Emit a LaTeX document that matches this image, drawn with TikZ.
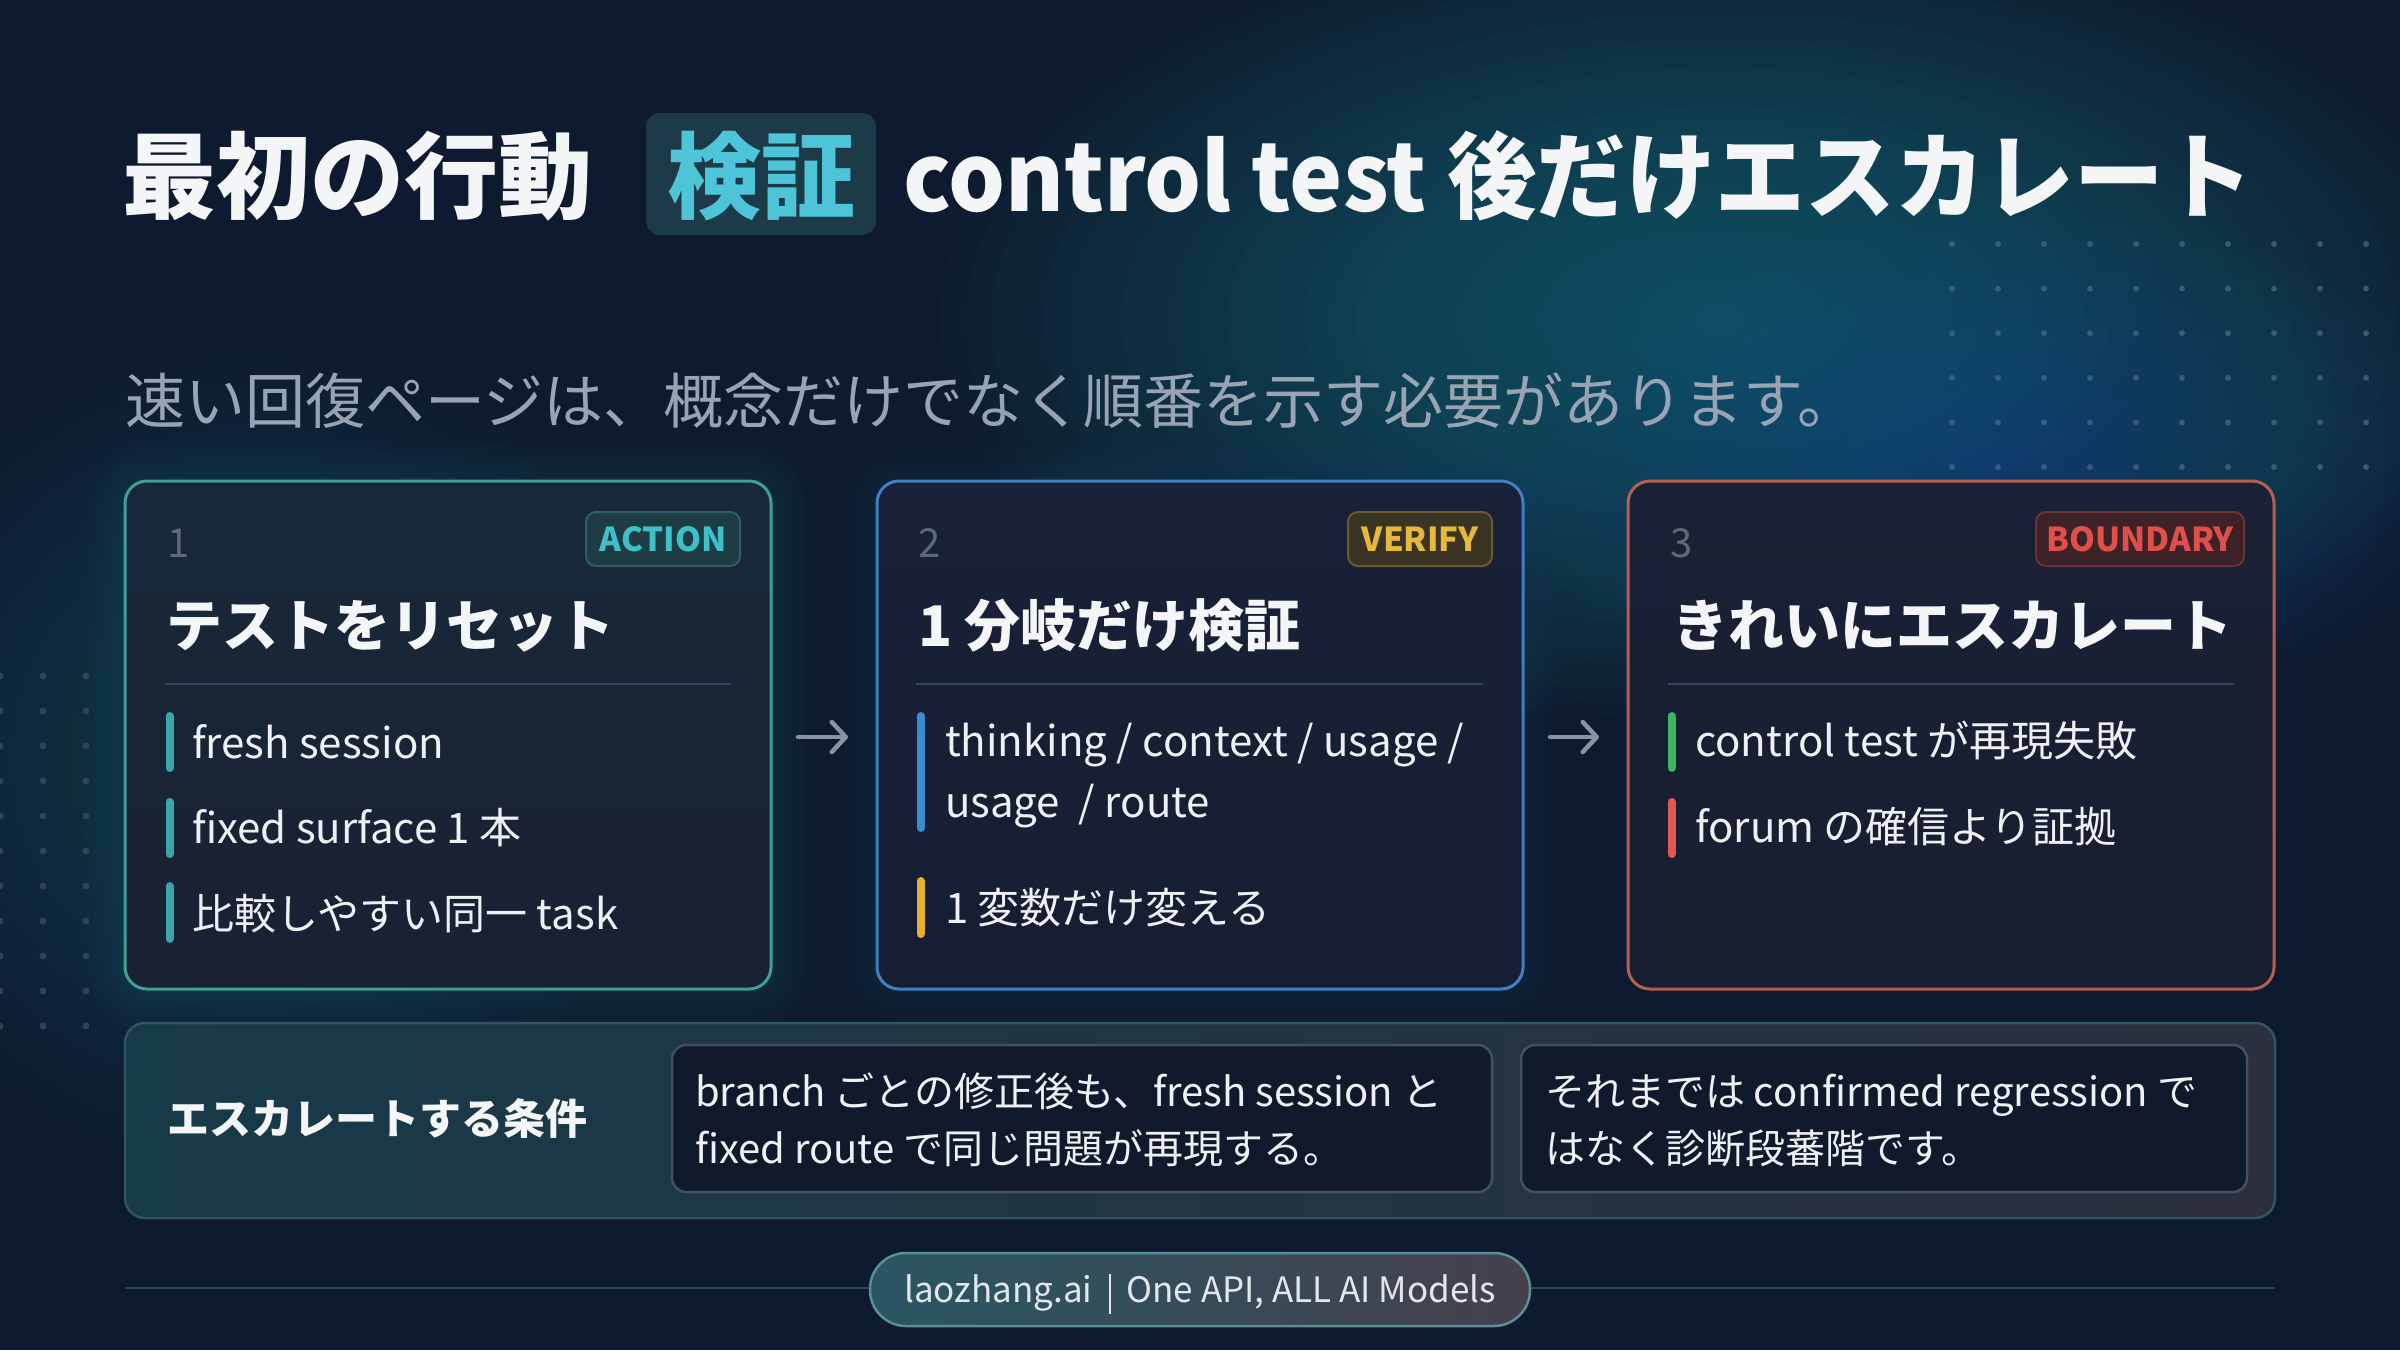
\documentclass[tikz,border=0pt]{standalone}
\usepackage{fontspec}
\usepackage{graphicx}
\setmainfont{Noto Sans CJK JP}
\usetikzlibrary{arrows.meta,calc}
\definecolor{bg}{HTML}{0E1A2F}
\definecolor{glowteal}{HTML}{2A8090}
\definecolor{glowblue}{HTML}{3A6AA8}
\definecolor{titlec}{HTML}{F4F5F7}
\definecolor{hlfill}{HTML}{1C3A48}
\definecolor{hltext}{HTML}{4EC4D8}
\definecolor{subc}{HTML}{98A4B4}
\definecolor{numc}{HTML}{5D6878}
\definecolor{sepc}{HTML}{34445A}
\definecolor{bodyc}{HTML}{EEF0F3}
\definecolor{cAborder}{HTML}{3F9E96}
\definecolor{cBborder}{HTML}{3F7FC4}
\definecolor{cCborder}{HTML}{B4604E}
\definecolor{cAtop}{HTML}{18283A}
\definecolor{cAbot}{HTML}{192133}
\definecolor{cBtop}{HTML}{182138}
\definecolor{cBbot}{HTML}{171E33}
\definecolor{cCtop}{HTML}{1A2136}
\definecolor{cCbot}{HTML}{181E31}
\definecolor{tealbar}{HTML}{3AA6AA}
\definecolor{bluebar}{HTML}{3D8AD0}
\definecolor{yellowbar}{HTML}{E8B030}
\definecolor{greenbar}{HTML}{3CB460}
\definecolor{redbar}{HTML}{E05A50}
\definecolor{bAfill}{HTML}{1D3C44}
\definecolor{bAdraw}{HTML}{2F5F66}
\definecolor{bAtext}{HTML}{3FC0C8}
\definecolor{bBfill}{HTML}{3A3424}
\definecolor{bBdraw}{HTML}{6B5A30}
\definecolor{bBtext}{HTML}{E6B840}
\definecolor{bCfill}{HTML}{3E2228}
\definecolor{bCdraw}{HTML}{6A3338}
\definecolor{bCtext}{HTML}{E0504A}
\definecolor{arrowc}{HTML}{8892A0}
\definecolor{boxfill}{HTML}{111A2C}
\definecolor{boxdraw}{HTML}{435064}
\definecolor{panelL}{HTML}{173A49}
\definecolor{panelR}{HTML}{2C2F3E}
\definecolor{paneldraw}{HTML}{2F5662}
\definecolor{pillL}{HTML}{2A5663}
\definecolor{pillR}{HTML}{45404C}
\definecolor{pilldraw}{HTML}{5A8F98}
\definecolor{pilltext}{HTML}{E2E7EC}
\definecolor{dotc}{HTML}{4A6A86}
\definecolor{dotl}{HTML}{2E4258}
\definecolor{footc}{HTML}{2B4458}
\newcommand\myfs[1]{\fontsize{#1}{#1}\selectfont}
\newcommand\myglow[6]{%
  \foreach \k in {1,...,30}{\fill[#5, fill opacity=#6] (#1,#2) ellipse [x radius={#3/30*\k*1pt}, y radius={#4/30*\k*1pt}];}}
\begin{document}
\begin{tikzpicture}[x=1pt,y=-1pt,
  txt/.style={anchor=base west, inner sep=0pt, outer sep=0pt},
  card/.style={minimum width=646pt, minimum height=508pt, rounded corners=22pt, line width=3pt, inner sep=0pt, outer sep=0pt},
  badge/.style={minimum height=54pt, rounded corners=10pt, line width=2pt, inner sep=0pt, font=\bfseries\myfs{33}},
  num/.style={txt, text=numc, font=\myfs{40}},
  ctitle/.style={txt, text=titlec, font=\bfseries\myfs{56}},
  body/.style={txt, text=bodyc, font=\myfs{42}},
  sepline/.style={draw=sepc, line width=2pt},
  bar/.style={line width=8pt, line cap=round},
  flowarrow/.style={draw=arrowc, line width=4.5pt, line cap=round, -{Straight Barb[round,length=14pt,width=30pt]}},
  cbox/.style={minimum height=147pt, rounded corners=14pt, fill=boxfill, draw=boxdraw, line width=2.5pt, inner sep=0pt, outer sep=0pt},
  boxtext/.style={txt, text=bodyc, font=\myfs{40}}
]
\useasboundingbox (0,0) rectangle (2400,1350);
\fill[bg] (0,0) rectangle (2400,1350);
% background glows
\myglow{1720}{320}{780}{400}{glowteal}{0.03}
\myglow{2000}{470}{480}{260}{glowblue}{0.02}
\myglow{250}{760}{420}{420}{glowteal}{0.01}
% card halos
\foreach \k in {1,...,10}{\fill[cAborder, fill opacity=0.014, rounded corners={22+\k*4}] ({125-\k*4},{481-\k*4}) rectangle ({771+\k*4},{989+\k*4});}
\foreach \k in {1,...,8}{\fill[cBborder, fill opacity=0.012, rounded corners={22+\k*4}] ({877-\k*4},{481-\k*4}) rectangle ({1523+\k*4},{989+\k*4});}
% dot grids
\foreach \i in {0,...,9}{\foreach \j in {0,...,5}{\fill[dotc, fill opacity=0.7] ({1952+46*\i},{244+44.6*\j}) circle (3pt);}}
\foreach \i in {0,1,2}{\foreach \j in {0,...,10}{\fill[dotl] ({43*\i},{676+35*\j}) circle (3.5pt);}}

% title
\node[txt, text=titlec, font=\bfseries\myfs{94}] (t1) at (122,211) {最初の行動};
\node[fill=hlfill, rounded corners=14pt, minimum width=230pt, minimum height=122pt, inner sep=0pt,
      text height=83pt, text depth=9pt, text=hltext, font=\bfseries\myfs{94}] (hl) at (761,174) {検証};
\node[txt, text=titlec, font=\bfseries\myfs{94}] (t2) at (903,211) {\scalebox{0.953}[1]{control test 後だけエスカレート}};
\node[txt, text=subc, font=\myfs{60}] (sub) at (125,423) {速い回復ページは、概念だけでなく順番を示す必要があります。};

% cards
\node[card, draw=cAborder, top color=cAtop, bottom color=cAbot] (c1) at (448,735) {};
\node[card, draw=cBborder, top color=cBtop, bottom color=cBbot] (c2) at (1200,735) {};
\node[card, draw=cCborder, top color=cCtop, bottom color=cCbot] (c3) at (1951,735) {};

% card 1
\node[num] (n1) at (167,557) {1};
\node[badge, fill=bAfill, draw=bAdraw, text=bAtext, minimum width=154pt] (b1) at (663,539) {ACTION};
\node[ctitle] (h1) at (166,646) {テストをリセット};
\draw[sepline] (165,684) -- (731,684);
\draw[bar, tealbar] (169.5,716) -- (169.5,768);
\draw[bar, tealbar] (169.5,802) -- (169.5,854);
\draw[bar, tealbar] (169.5,886) -- (169.5,939);
\node[body] (a1) at (192,758) {fresh session};
\node[body] (a2) at (192,843) {fixed surface 1 本};
\node[body] (a3) at (192,929) {比較しやすい同一 task};

% card 2
\node[num] (n2) at (918,557) {2};
\node[badge, fill=bBfill, draw=bBdraw, text=bBtext, minimum width=144pt] (b2) at (1420,539) {VERIFY};
\node[ctitle] (h2) at (918,646) {1 分岐だけ検証};
\draw[sepline] (916,684) -- (1483,684);
\draw[bar, bluebar] (920.5,716) -- (920.5,828);
\draw[bar, yellowbar] (920.5,881) -- (920.5,934);
\node[body] (v1) at (945,756) {\parbox[t]{560pt}{\fontsize{42}{61}\selectfont thinking / context / usage /\\usage \ / route}};
\node[body] (v2) at (945,923) {1 変数だけ変える};

% card 3
\node[num] (n3) at (1670,557) {3};
\node[badge, fill=bCfill, draw=bCdraw, text=bCtext, minimum width=208pt] (b3) at (2140,539) {BOUNDARY};
\node[ctitle] (h3) at (1672,646) {きれいにエスカレート};
\draw[sepline] (1668,684) -- (2234,684);
\draw[bar, greenbar] (1671.5,716) -- (1671.5,768);
\draw[bar, redbar] (1671.5,802) -- (1671.5,854);
\node[body] (e1) at (1695,756) {control test が再現失敗};
\node[body] (e2) at (1695,842) {forum の確信より証拠};

% flow arrows
\draw[flowarrow] ($(c1.east)+(27,2)$) -- ($(c2.west)+(-29,2)$);
\draw[flowarrow] ($(c2.east)+(27,2)$) -- ($(c3.west)+(-29,2)$);

% bottom panel
\node[minimum width=2150pt, minimum height=195pt, rounded corners=20pt, left color=panelL, right color=panelR,
      draw=paneldraw, line width=2.5pt, inner sep=0pt, outer sep=0pt] (p) at (1200,1120.5) {};
\node[txt, text=titlec, font=\bfseries\myfs{42}] (pl) at (167,1134) {エスカレートする条件};
\node[cbox, minimum width=820pt] (ba) at (1082,1118.5) {};
\node[cbox, minimum width=726pt] (bb) at (1884,1118.5) {};
\node[boxtext] (ta) at (695,1106) {\parbox[t]{790pt}{\fontsize{40}{57}\selectfont branch ごとの修正後も、fresh session と\\fixed route で同じ問題が再現する。}};
\node[boxtext] (tb) at (1545,1106) {\parbox[t]{690pt}{\fontsize{40}{57}\selectfont それまでは confirmed regression で\\はなく診断段蕃階です。}};

% footer
\coordinate (fl) at (125,1288);
\coordinate (fr) at (2275,1288);
\draw[footc, line width=2.5pt] (fl) -- (fr);
\node[minimum width=660pt, minimum height=73pt, rounded corners=36pt, left color=pillL, right color=pillR,
      draw=pilldraw, line width=2.5pt, inner sep=0pt, text=pilltext, font=\myfs{35},
      text height=37pt, text depth=11pt] (pill) at (1200,1289.5)
  {laozhang.ai\hspace{16pt}\rule[-11pt]{2pt}{40pt}\hspace{16pt}One API, ALL AI Models};
\end{tikzpicture}
\end{document}
